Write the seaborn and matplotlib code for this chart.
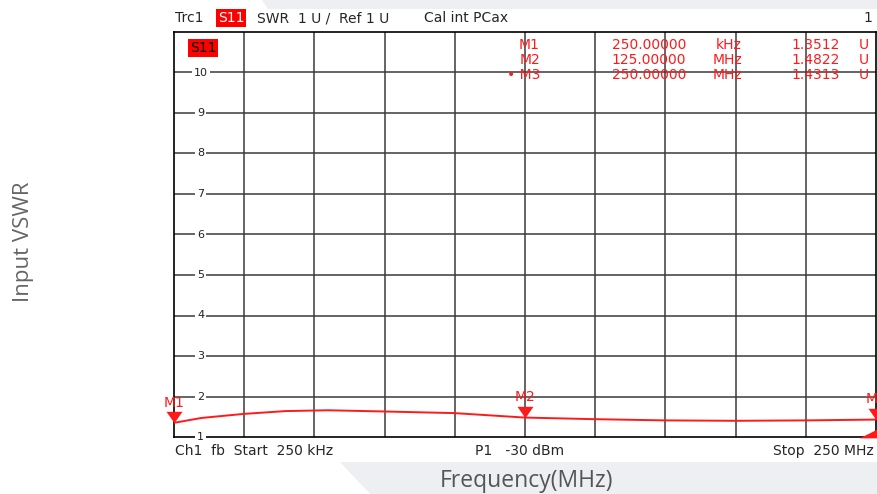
import numpy as np
import pandas as pd
import matplotlib
matplotlib.use("Agg")
import matplotlib.pyplot as plt
import matplotlib.transforms as mtransforms
from matplotlib.patches import Polygon
import seaborn as sns

# trace values
freq_mhz = [0.25, 10, 25, 40, 55, 75, 100, 125, 150, 175, 200, 225, 250]
vswr = [1.35, 1.47, 1.57, 1.64, 1.66, 1.63, 1.59, 1.48, 1.44, 1.41, 1.40, 1.41, 1.43]

marker_names = ["M1", "M2", "M3"]
marker_freq = [0.25, 125.0, 250.0]
marker_vswr = [1.3512, 1.4822, 1.4313]
marker_freq_txt = ["250.00000", "125.00000", "250.00000"]
marker_unit = ["kHz", "MHz", "MHz"]
marker_val_txt = ["1.3512", "1.4822", "1.4313"]

y_ticks = [1, 2, 3, 4, 5, 6, 7, 8, 9, 10]

RED = "#ff1a1a"
GRID = "#3a3a3a"
FS = 10

sns.set_theme(style="white")
plt.rcParams["font.family"] = ["DejaVu Sans"]

fig = plt.figure(figsize=(8.77, 4.94), dpi=100)

# light slide decorations behind the screenshot
bg = fig.add_axes([0, 0, 1, 1], zorder=-5)
bg.set_xlim(0, 877)
bg.set_ylim(494, 0)
bg.axis("off")
bg.add_patch(Polygon([[340, 462], [877, 462], [877, 494], [370, 494]],
                     closed=True, fc="#eeeff2", ec="none"))
bg.add_patch(Polygon([[262, 0], [877, 0], [877, 9], [268, 9]],
                     closed=True, fc="#eeeff2", ec="none"))

ax = fig.add_axes([174 / 877, 57 / 494, 702 / 877, 405 / 494])
df = pd.DataFrame({"freq": freq_mhz, "vswr": vswr})
sns.lineplot(data=df, x="freq", y="vswr", ax=ax, color=RED, lw=1.4, zorder=4)

x0, x1 = 0.25, 250.0
ax.set_xlim(x0, x1)
ax.set_ylim(1, 11)
ax.set_xticks([])
ax.set_yticks([])
ax.set_xlabel("")
ax.set_ylabel("")
for s in ax.spines.values():
    s.set_color("black")
    s.set_linewidth(1.2)

step = (x1 - x0) / 10
for k in range(1, 10):
    ax.axvline(x0 + k * step, color=GRID, lw=1.1, zorder=1)
for v in y_ticks[1:]:
    ax.axhline(v, color=GRID, lw=1.1, zorder=1)
for v in y_ticks:
    ax.text(0.038, v, str(v), transform=ax.get_yaxis_transform(),
            ha="center", va="center", fontsize=8, color="#222222",
            bbox=dict(fc="white", ec="none", pad=1.5), zorder=3, clip_on=False)

# marker triangles sitting on the trace
tri_down = [(-0.7, 0.5), (0.7, 0.5), (0, -0.5), (-0.7, 0.5)]
off = mtransforms.ScaledTranslation(0, 4.1 / 72, fig.dpi_scale_trans)
for name, f, v in zip(marker_names, marker_freq, marker_vswr):
    ax.plot([f], [v], marker=tri_down, ms=11.5, color=RED, mec=RED, mew=0,
            transform=ax.transData + off, clip_on=False, zorder=6)
    ax.annotate(name, (f, v), xytext=(0, 9.5), textcoords="offset points",
                ha="center", va="bottom", color=RED, fontsize=FS,
                annotation_clip=False, zorder=6)
corner = [(1, -0.5), (1, 0.5), (-1, -0.5), (1, -0.5)]
ax.plot([1.0], [0.0], marker=corner, ms=14, color=RED, mew=0,
        transform=ax.transAxes + mtransforms.ScaledTranslation(-5 / 72, 3 / 72, fig.dpi_scale_trans),
        clip_on=False, zorder=6)

# marker table
rows_y = [45, 60, 75]
for i in range(3):
    yy = 1 - rows_y[i] / 494
    prefix = "\u2022 " if i == 2 else ""
    fig.text(540 / 877, yy, prefix + marker_names[i], ha="right", va="center",
             color=RED, fontsize=FS)
    fig.text(686 / 877, yy, marker_freq_txt[i], ha="right", va="center",
             color=RED, fontsize=FS)
    fig.text(742 / 877, yy, marker_unit[i], ha="right", va="center",
             color=RED, fontsize=FS)
    fig.text(840 / 877, yy, marker_val_txt[i], ha="right", va="center",
             color=RED, fontsize=FS)
    fig.text(859 / 877, yy, "U", ha="left", va="center",
             color=RED, fontsize=FS)

fig.text(190 / 877, 1 - 48 / 494, "S11", ha="left", va="center", fontsize=FS,
         color="black", bbox=dict(fc="#ff0000", ec="none", pad=1.2))

# header line
hy = 1 - 18 / 494
fig.text(175 / 877, hy, "Trc1", ha="left", va="center", fontsize=FS)
fig.text(218 / 877, hy, "S11", ha="left", va="center", fontsize=FS,
         color="white", bbox=dict(fc="#ff0000", ec="none", pad=1.2))
fig.text(257 / 877, hy, "SWR  1 U /  Ref 1 U", ha="left", va="center", fontsize=FS)
fig.text(424 / 877, hy, "Cal int PCax", ha="left", va="center", fontsize=FS)
fig.text(872 / 877, hy, "1", ha="right", va="center", fontsize=FS)

# footer line
fy = 1 - 451 / 494
fig.text(175 / 877, fy, "Ch1  fb  Start  250 kHz", ha="left", va="center", fontsize=FS)
fig.text(475 / 877, fy, "P1   -30 dBm", ha="left", va="center", fontsize=FS)
fig.text(874 / 877, fy, "Stop  250 MHz", ha="right", va="center", fontsize=FS)

# slide axis titles
fig.text(24 / 877, 1 - 242 / 494, "Input VSWR", rotation=90, ha="center",
         va="center", fontsize=16, color="#666666", family=["Open Sans", "DejaVu Sans"])
fig.text(527 / 877, 1 - 481 / 494, "Frequency(MHz)", ha="center", va="center",
         fontsize=16.5, color="#555555", family=["Open Sans", "DejaVu Sans"])

fig.savefig("out.png", dpi=100)
